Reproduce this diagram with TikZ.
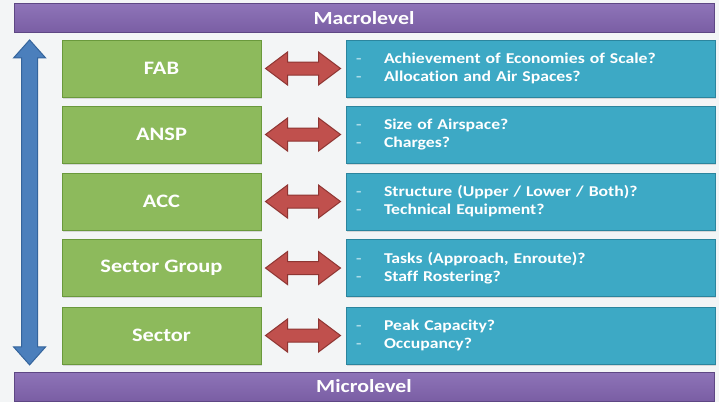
\documentclass[tikz,border=0pt]{standalone}
\usepackage{fontspec}
\setmainfont{Carlito}[FakeStretch=1.18,Ligatures=NoCommon]
\usetikzlibrary{calc,shadows}
\definecolor{bgc}{HTML}{F3F5F6}
\definecolor{purpc}{HTML}{7A5EA4}
\definecolor{purplt}{HTML}{8E74B8}
\definecolor{purpdk}{HTML}{5E4784}
\definecolor{greenc}{HTML}{8DBA5C}
\definecolor{greendk}{HTML}{6A993C}
\definecolor{tealc}{HTML}{3DA9C5}
\definecolor{tealdk}{HTML}{2B859E}
\definecolor{redc}{HTML}{C0504D}
\definecolor{reddk}{HTML}{8E3532}
\definecolor{bluec}{HTML}{4B7FBC}
\definecolor{bluedk}{HTML}{34649C}
\definecolor{dashc}{HTML}{A9DBE8}
\tikzset{
  levelbar/.style={draw=purpdk,line width=0.8pt,top color=purplt,bottom color=purpc,
    minimum width=700pt,minimum height=29pt,inner sep=0pt,
    text=white,font=\fontsize{18.5}{20}\selectfont\bfseries},
  unitbox/.style={draw=greendk,line width=1pt,fill=greenc,minimum width=199pt,
    minimum height=57pt,inner sep=0pt,text=white,font=\fontsize{19}{21}\selectfont\bfseries,
    drop shadow={shadow xshift=1pt,shadow yshift=-1.5pt,opacity=.25}},
  qbox/.style={draw=tealdk,line width=1pt,fill=tealc,minimum width=369pt,
    minimum height=57pt,inner sep=0pt,text=white,align=left,text width=349pt,
    font=\fontsize{15}{18}\selectfont\bfseries,
    drop shadow={shadow xshift=1pt,shadow yshift=-1.5pt,opacity=.25}},
  linkarrow/.style={draw=reddk,line width=1pt,fill=redc,line join=miter},
  scalearrow/.style={draw=bluedk,line width=1pt,fill=bluec,line join=miter},
}
\newcommand{\qitem}[1]{\makebox[28pt][l]{\textcolor{dashc}{-}}#1}
\begin{document}
\begin{tikzpicture}[x=1pt,y=-1pt]
  \fill[bgc] (0,0) rectangle (719,402);
  \useasboundingbox (0,0) rectangle (719,402);

  % level bars
  \node[levelbar] (macro) at (364,18) {Macrolevel};
  \node[levelbar] (micro) at (364,386.5) {Microlevel};

  % organisational units and their questions
  \foreach \nm/\lbl/\yc/\qa/\qb in {
      fab/FAB/68.5/{Achievement of Economies of Scale?}/{Allocation and Air Spaces?},
      ansp/ANSP/134.5/{Size of Airspace?}/{Charges?},
      acc/ACC/201.5/{Structure (Upper / Lower / Both)?}/{Technical Equipment?},
      sg/{Sector Group}/268/{Tasks (Approach, Enroute)?}/{Staff Rostering?},
      sec/Sector/335.5/{Peak Capacity?}/{Occupancy?}}{
    \node[unitbox] (\nm) at (161.5,\yc) {\lbl};
    \node[qbox] (\nm q) at (530.5,\yc) {\qitem{\qa}\\\qitem{\qb}};
    % block double arrow between unit and its questions
    \draw[linkarrow] ($(\nm.east)+(4,0)$) -- ++(22,-16.5) -- ++(0,10) -- ++(31,0)
      -- ++(0,-10) -- ++(22,16.5) -- ++(-22,16.5) -- ++(0,-10) -- ++(-31,0)
      -- ++(0,10) -- cycle;
  }

  % vertical scale arrow from macro to micro level
  \draw[scalearrow] ($(macro.south west)+(16,7)$) -- ++(16,18) -- ++(-8,0)
    -- ++(0,289) -- ++(8,0) -- ++(-16,18) -- ++(-16,-18) -- ++(8,0)
    -- ++(0,-289) -- ++(-8,0) -- cycle;
\end{tikzpicture}
\end{document}
